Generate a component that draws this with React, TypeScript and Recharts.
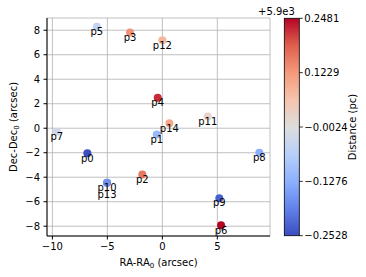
import { ScatterChart, Scatter, XAxis, YAxis, CartesianGrid, Customized } from "recharts";

const names = ["p0", "p1", "p2", "p3", "p4", "p5", "p6", "p7", "p8", "p9", "p10", "p11", "p12", "p13", "p14"];
const raOff = [-6.82, -0.51, -1.82, -2.94, -0.42, -5.96, 5.34, -9.6, 8.82, 5.18, -5.03, 4.13, 0.0, -5.03, 0.64];
const decOff = [-2.05, -0.52, -3.77, 7.81, 2.48, 8.28, -7.93, -0.28, -2.0, -5.71, -4.46, 0.95, 7.18, -4.46, 0.41];
const distance = [-0.2528, -0.11, 0.16, 0.13, 0.22, -0.05, 0.2481, -0.03, -0.13, -0.23, -0.17, 0.02, 0.08, -0.17, 0.1];

const xTicks = [-10, -5, 0, 5];
const yTicks = [-8, -6, -4, -2, 0, 2, 4, 6, 8];
const cbarTicks = [0.2481, 0.1229, -0.0024, -0.1276, -0.2528];
const vmin = -0.2528;
const vmax = 0.2481;

const FONT = "DejaVu Sans";

// coolwarm (Moreland) stops
const cw = [
    [59, 76, 192], [98, 130, 234], [141, 176, 254], [184, 208, 249], [221, 221, 221],
    [245, 196, 173], [244, 154, 123], [222, 96, 77], [180, 4, 38],
];
function coolwarm(v: number) {
    let t = (v - vmin) / (vmax - vmin);
    t = Math.max(0, Math.min(1, t)) * (cw.length - 1);
    const i = Math.min(cw.length - 2, Math.floor(t));
    const f = t - i;
    const c = cw[i].map((a, k) => Math.round(a + (cw[i + 1][k] - a) * f));
    return `rgb(${c[0]},${c[1]},${c[2]})`;
}

// stack labels of points that sit on top of each other
const points = names.map((n, i) => {
    let stack = 0;
    for (let j = 0; j < i; j++) {
        if (Math.abs(raOff[j] - raOff[i]) < 0.3 && Math.abs(decOff[j] - decOff[i]) < 0.3) stack++;
    }
    return { name: n, x: raOff[i], y: decOff[i], d: distance[i], stack };
});

const fmt = (v: number) => String(v).replace("-", "\u2212");

const CB = { x: 284.3, y: 18.3, w: 15, h: 217.4 };

function Extras() {
    const cy = (v: number) => CB.y + ((vmax - v) / (vmax - vmin)) * CB.h;
    return (
        <g fontFamily={FONT} fontSize={10} fill="#000">
            <defs>
                <linearGradient id="cbar" x1="0" y1="1" x2="0" y2="0">
                    {cw.map((c, i) => (
                        <stop key={i} offset={i / (cw.length - 1)} stopColor={`rgb(${c[0]},${c[1]},${c[2]})`} />
                    ))}
                </linearGradient>
            </defs>
            <rect x={CB.x} y={CB.y} width={CB.w} height={CB.h} fill="url(#cbar)" stroke="#000" strokeWidth={0.8} />
            {cbarTicks.map((v) => (
                <g key={v}>
                    <line x1={CB.x + CB.w} x2={CB.x + CB.w + 3.5} y1={cy(v)} y2={cy(v)} stroke="#000" strokeWidth={0.8} />
                    <text x={CB.x + CB.w + 5} y={cy(v)} dy="0.35em">{fmt(v)}</text>
                </g>
            ))}
            <text x={352} y={127} textAnchor="middle" dy="0.35em" transform="rotate(-90 352 127)">Distance (pc)</text>
            <text x={258} y={15}>+5.9e3</text>
            <text x={158.6} y={266} textAnchor="middle">
                RA-RA<tspan fontSize={7} dy={2}>0</tspan><tspan dy={-2}> (arcsec)</tspan>
            </text>
            <text x={16.5} y={127} textAnchor="middle" transform="rotate(-90 16.5 127)">
                Dec-Dec<tspan fontSize={7} dy={2}>0</tspan><tspan dy={-2}> (arcsec)</tspan>
            </text>
        </g>
    );
}

export default function App() {
    const tickStyle = { fontSize: 10, fill: "#000", fontFamily: FONT };
    return (
        <div style={{ position: "absolute", left: 0, top: 0, background: "#fff" }}>
            <ScatterChart width={366} height={277} margin={{ top: 18, right: 96, bottom: 0, left: 0 }}>
                <CartesianGrid stroke="#b0b0b0" strokeWidth={0.8} />
                <XAxis type="number" dataKey="x" domain={[-10.49, 9.79]} ticks={xTicks} allowDataOverflow
                    height={41} tick={tickStyle} tickSize={3.5} tickMargin={3.5} tickFormatter={fmt}
                    axisLine={{ stroke: "#000" }} tickLine={{ stroke: "#000" }} />
                <YAxis type="number" dataKey="y" domain={[-8.8, 9.0]} ticks={yTicks} allowDataOverflow
                    width={47} tick={tickStyle} tickSize={3.5} tickMargin={3.5} tickFormatter={fmt}
                    axisLine={{ stroke: "#000" }} tickLine={{ stroke: "#000" }} />
                <XAxis xAxisId="top" orientation="top" type="number" dataKey="x" domain={[-10.49, 9.79]} allowDataOverflow
                    height={0} tick={false} tickLine={false} axisLine={{ stroke: "#000" }} />
                <YAxis yAxisId="right" orientation="right" type="number" dataKey="y" domain={[-8.8, 9.0]} allowDataOverflow
                    width={0} tick={false} tickLine={false} axisLine={{ stroke: "#000" }} />
                <Scatter data={points} isAnimationActive={false}
                    shape={(p: any) => <circle cx={p.cx} cy={p.cy} r={4} fill={coolwarm(p.payload.d)} />} />
                <Scatter data={points} isAnimationActive={false} fill="#000"
                    shape={(p: any) => (
                        <text x={p.cx} y={p.cy + 8.3 + p.payload.stack * 6.7} textAnchor="middle"
                            fontSize={10} fontFamily={FONT} fill="#000" stroke="none">{p.payload.name}</text>
                    )} />
                <Customized component={Extras} />
            </ScatterChart>
        </div>
    );
}
